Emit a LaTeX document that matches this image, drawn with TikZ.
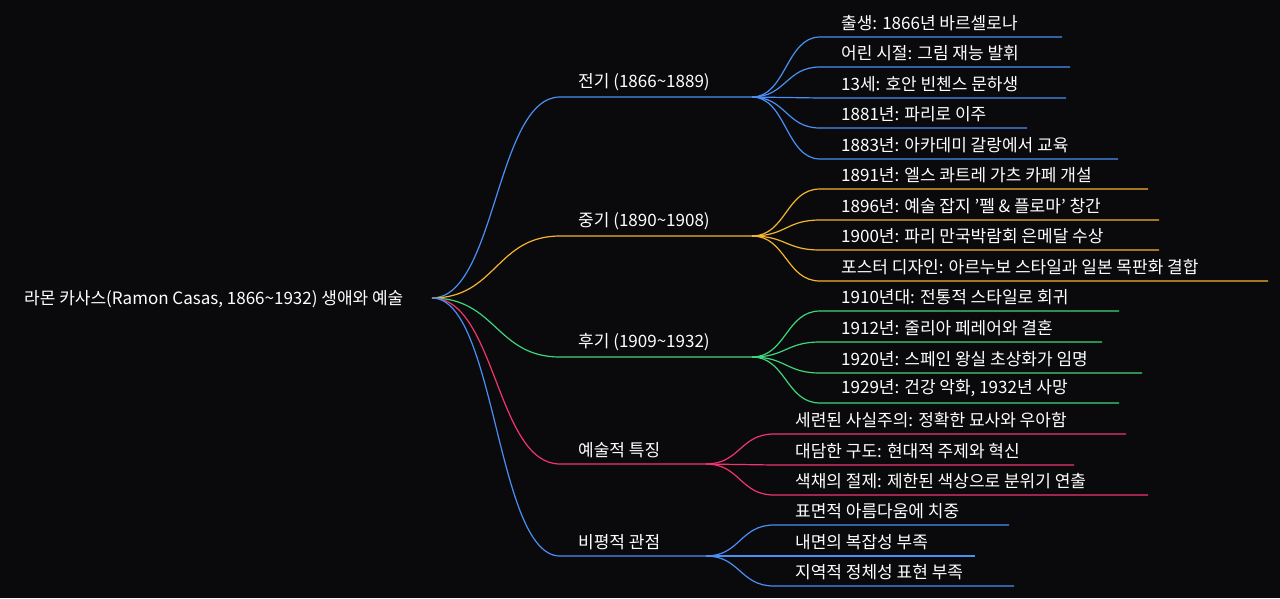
\documentclass[tikz,border=0pt]{standalone}
\usepackage{fontspec}
\setmainfont{Noto Sans CJK KR}
\definecolor{bgc}{HTML}{0A0A0C}
\definecolor{cb}{HTML}{4A8FF5}
\definecolor{co}{HTML}{F5B52E}
\definecolor{cg}{HTML}{3ED67A}
\definecolor{cp}{HTML}{F2336E}
\tikzset{x=1pt,y=-1pt,
 lbl/.style={anchor=south west,inner sep=0pt,text=white,font=\fontsize{17}{17}\selectfont},
 ln/.style={line width=1.2pt}}
\newcommand{\kid}[6]{% name, color, parent, y, end x, text
 \coordinate (#1s) at (#3,#4); \coordinate (#1e) at (#5,#4);
 \draw[ln,#2] (#1p) .. controls ($(#1p)+(34,0)$) and ($(#1s)+(-34,0)$) .. (#1s) -- (#1e);
 \node[lbl] (#1t) at ($(#1s)+(21,-6)$) {#6};}
\usetikzlibrary{calc}
\begin{document}
\begin{tikzpicture}
\fill[bgc] (0,0) rectangle (1280,598);
\useasboundingbox (0,0) rectangle (1280,598);
\node[lbl,anchor=west] (root) at (24,299) {라몬 카사스(Ramon Casas, 1866\textasciitilde1932) 생애와 예술};
\coordinate (R) at (432,298);
\newcommand{\branch}[6]{% name color y endx text
 \coordinate (#1s) at (560,#3); \coordinate (#1e) at (#4,#3);
 \draw[ln,#2] (R) .. controls (496,298) and (496,#3) .. (#1s) -- (#1e);
 \node[lbl] (#1t) at ($(#1s)+(18,-6)$) {#5};}
\branch{a}{cb}{97}{752}{전기 (1866\textasciitilde1889)}{}
\branch{b}{co}{236}{752}{중기 (1890\textasciitilde1908)}{}
\branch{c}{cg}{357}{752}{후기 (1909\textasciitilde1932)}{}
\branch{d}{cp}{464}{706}{예술적 특징}{}
\branch{e}{cb}{556}{706}{비평적 관점}{}
\foreach \n in {a1,a2,a3,a4,a5}{\coordinate (\n p) at (ae);}
\foreach \n in {b1,b2,b3,b4}{\coordinate (\n p) at (be);}
\foreach \n in {c1,c2,c3,c4}{\coordinate (\n p) at (ce);}
\foreach \n in {d1,d2,d3}{\coordinate (\n p) at (de);}
\foreach \n in {e1,e2,e3}{\coordinate (\n p) at (ee);}
\kid{a1}{cb}{820}{37}{1062}{출생: 1866년 바르셀로나}
\kid{a2}{cb}{820}{67}{1070}{어린 시절: 그림 재능 발휘}
\kid{a3}{cb}{820}{98}{1066}{13세: 호안 빈첸스 문하생}
\kid{a4}{cb}{820}{128}{1027}{1881년: 파리로 이주}
\kid{a5}{cb}{820}{159}{1118}{1883년: 아카데미 갈랑에서 교육}
\kid{b1}{co}{820}{189}{1148}{1891년: 엘스 콰트레 가츠 카페 개설}
\kid{b2}{co}{820}{220}{1159}{1896년: 예술 잡지 '펠 \& 플로마' 창간}
\kid{b3}{co}{820}{250}{1159}{1900년: 파리 만국박람회 은메달 수상}
\kid{b4}{co}{820}{281}{1268}{포스터 디자인: 아르누보 스타일과 일본 목판화 결합}
\kid{c1}{cg}{820}{311}{1119}{1910년대: 전통적 스타일로 회귀}
\kid{c2}{cg}{820}{342}{1102}{1912년: 줄리아 페레어와 결혼}
\kid{c3}{cg}{820}{373}{1142}{1920년: 스페인 왕실 초상화가 임명}
\kid{c4}{cg}{820}{403}{1119}{1929년: 건강 악화, 1932년 사망}
\kid{d1}{cp}{774}{434}{1126}{세련된 사실주의: 정확한 묘사와 우아함}
\kid{d2}{cp}{774}{465}{1074}{대담한 구도: 현대적 주제와 혁신}
\kid{d3}{cp}{774}{495}{1148}{색채의 절제: 제한된 색상으로 분위기 연출}
\kid{e1}{cb}{774}{525}{1009}{표면적 아름다움에 치중}
\kid{e2}{cb}{774}{556}{975}{내면의 복잡성 부족}
\kid{e3}{cb}{774}{586}{1014}{지역적 정체성 표현 부족}
\end{tikzpicture}
\end{document}
